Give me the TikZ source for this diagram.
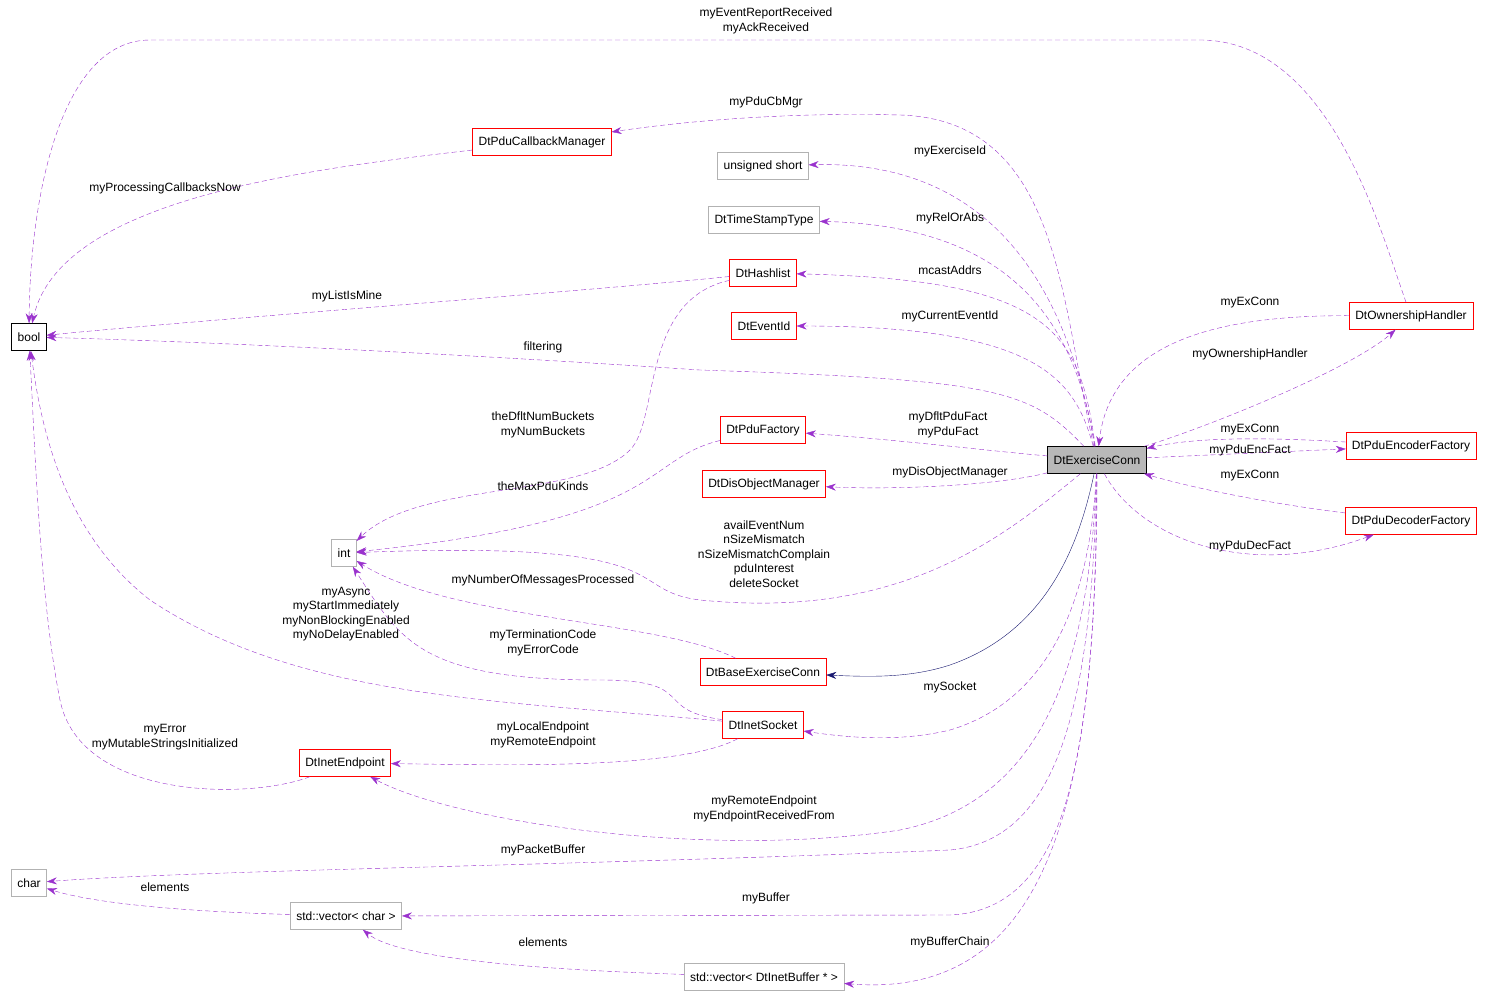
\documentclass[tikz,border=0pt]{standalone}
\usepackage{fontspec}
\setmainfont{Liberation Sans}
\usetikzlibrary{arrows.meta}
\definecolor{dkor}{HTML}{9A32CD}
\definecolor{nav}{HTML}{191970}
\begin{document}
\begin{tikzpicture}[x=1pt,y=-1pt,
 every node/.style={font=\fontsize{12}{14.5}\selectfont},
 box/.style={draw=red,minimum height=27pt,inner xsep=6pt,inner ysep=2pt},
 gbox/.style={box,draw=black!30},
 e/.style={draw=dkor,dashed,dash pattern=on 5pt off 3pt,-{Stealth[length=10pt,width=7pt]}},
 lb/.style={align=center,inner sep=1pt}]
\useasboundingbox (0,0) rectangle (1493,1000);
\node[box,draw=black] (bool) at (29,337) {bool};
\node[box,draw=black,fill=black!28] (ec) at (1097,460) {DtExerciseConn};
\node[box] (pcm) at (542,142) {DtPduCallbackManager};
\node[gbox] (us) at (763,166) {unsigned short};
\node[gbox] (ts) at (764,220) {DtTimeStampType};
\node[box] (hl) at (763,273) {DtHashlist};
\node[box] (ev) at (764,326) {DtEventId};
\node[box] (pf) at (763,430) {DtPduFactory};
\node[box] (dom) at (764,484) {DtDisObjectManager};
\node[gbox] (int) at (344,553) {int};
\node[box] (bec) at (763,672) {DtBaseExerciseConn};
\node[box] (sock) at (763,725) {DtInetSocket};
\node[box] (iep) at (345,763) {DtInetEndpoint};
\node[gbox] (chr) at (29,883) {char};
\node[gbox] (vc) at (346,916) {std::vector< char >};
\node[gbox] (vb) at (764,977) {std::vector< DtInetBuffer * >};
\node[box] (oh) at (1411,316) {DtOwnershipHandler};
\node[box] (enc) at (1411,446) {DtPduEncoderFactory};
\node[box] (dec) at (1411,521) {DtPduDecoderFactory};

% edges
\draw[e] (oh) .. controls (1380,230) and (1330,40) .. (1200,40) -- (150,40) .. controls (60,40) and (30,200) .. (bool);
\node[lb] at (766,21) {myEventReportReceived\\myAckReceived};
\draw[e] (ec) .. controls (1060,300) and (1060,120) .. (900,115) .. controls (780,112) and (680,122) .. (pcm);
\node[lb] at (766,102) {myPduCbMgr};
\draw[e] (pcm) .. controls (300,170) and (60,200) .. (bool);
\node[lb] at (165,188) {myProcessingCallbacksNow};
\draw[e] (ec) .. controls (1070,300) and (1000,160) .. (us);
\node[lb] at (950,151) {myExerciseId};
\draw[e] (ec) .. controls (1075,320) and (1010,226) .. (ts);
\node[lb] at (950,218) {myRelOrAbs};
\draw[e] (ec) .. controls (1080,330) and (1050,280) .. (hl);
\node[lb] at (950,270) {mcastAddrs};
\draw[e] (hl) .. controls (600,290) and (200,320) .. (bool);
\node[lb] at (347,296) {myListIsMine};
\draw[e] (ec) .. controls (1075,380) and (1040,326) .. (ev);
\node[lb] at (950,316) {myCurrentEventId};
\draw[e] (ec) .. controls (1030,390) and (1000,380) .. (700,370) .. controls (400,350) and (150,340) .. (bool);
\node[lb] at (543,347) {filtering};
\draw[e] (hl) .. controls (640,300) and (660,420) .. (630,450) .. controls (580,500) and (420,480) .. (int);
\node[lb] at (543,425) {theDfltNumBuckets\\myNumBuckets};
\draw[e] (ec) .. controls (1000,452) and (900,440) .. (pf);
\node[lb] at (948,425) {myDfltPduFact\\myPduFact};
\draw[e] (pf) .. controls (640,460) and (670,520) .. (int);
\node[lb] at (543,486) {theMaxPduKinds};
\draw[e] (ec) .. controls (1000,485) and (900,490) .. (dom);
\node[lb] at (950,472) {myDisObjectManager};
\draw[e] (ec) .. controls (1000,540) and (900,620) .. (700,600) .. controls (620,590) and (690,540) .. (int);
\node[lb] at (764,554) {availEventNum\\nSizeMismatch\\nSizeMismatchComplain\\pduInterest\\deleteSocket};
\draw[e] (bec) .. controls (660,620) and (450,620) .. (int);
\node[lb] at (543,580) {myNumberOfMessagesProcessed};
\draw[e] (sock) .. controls (650,710) and (700,680) .. (600,680) .. controls (420,680) and (400,640) .. (int);
\node[lb] at (543,643) {myTerminationCode\\myErrorCode};
\draw[e] (sock) .. controls (500,700) and (300,700) .. (150,600) .. controls (60,530) and (40,420) .. (bool);
\node[lb] at (346,614) {myAsync\\myStartImmediately\\myNonBlockingEnabled\\myNoDelayEnabled};
\draw[draw=nav,-{Stealth[length=10pt,width=7pt]}] (ec) .. controls (1080,540) and (1050,630) .. (950,665) .. controls (910,678) and (870,677) .. (bec);
\draw[e] (ec) .. controls (1090,600) and (1050,700) .. (950,730) .. controls (900,742) and (850,738) .. (sock);
\node[lb] at (950,687) {mySocket};
\draw[e] (sock) .. controls (680,770) and (500,765) .. (iep);
\node[lb] at (543,735) {myLocalEndpoint\\myRemoteEndpoint};
\draw[e] (iep) .. controls (250,800) and (80,800) .. (60,700) .. controls (40,600) and (35,450) .. (bool);
\node[lb] at (165,737) {myError\\myMutableStringsInitialized};
\draw[e] (ec) .. controls (1090,650) and (1050,800) .. (900,830) .. controls (700,860) and (450,820) .. (iep);
\node[lb] at (764,809) {myRemoteEndpoint\\myEndpointReceivedFrom};
\draw[e] (ec) .. controls (1092,700) and (1060,840) .. (950,850) .. controls (600,865) and (200,870) .. (chr);
\node[lb] at (543,850) {myPacketBuffer};
\draw[e] (vc) .. controls (200,912) and (100,905) .. (chr);
\node[lb] at (165,887) {elements};
\draw[e] (ec) .. controls (1095,750) and (1070,910) .. (950,915) -- (vc);
\node[lb] at (766,898) {myBuffer};
\draw[e] (vb) .. controls (550,970) and (400,960) .. (vc);
\node[lb] at (543,942) {elements};
\draw[e] (ec) .. controls (1097,800) and (1050,1000) .. (vb);
\node[lb] at (950,942) {myBufferChain};
\draw[e] (oh) .. controls (1200,315) and (1110,350) .. (ec);
\node[lb] at (1250,303) {myExConn};
\draw[e] (ec) .. controls (1200,430) and (1350,370) .. (oh);
\node[lb] at (1250,354) {myOwnershipHandler};
\draw[e] (enc) .. controls (1280,438) and (1200,436) .. (ec);
\node[lb] at (1250,430) {myExConn};
\draw[e] (ec) -- (enc);
\node[lb] at (1250,450) {myPduEncFact};
\draw[e] (dec) .. controls (1280,505) and (1200,490) .. (ec);
\node[lb] at (1250,476) {myExConn};
\draw[e] (ec) .. controls (1140,540) and (1250,580) .. (dec);
\node[lb] at (1250,546) {myPduDecFact};
\end{tikzpicture}
\end{document}
